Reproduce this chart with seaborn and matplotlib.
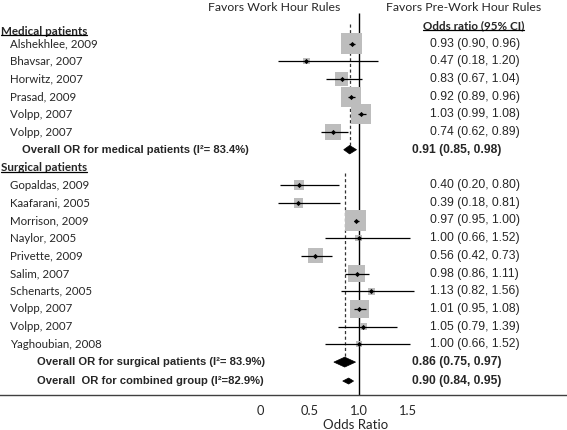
import numpy as np
import pandas as pd
import matplotlib
matplotlib.use("Agg")
import matplotlib.pyplot as plt
import seaborn as sns
from matplotlib.patches import Polygon
from matplotlib.lines import Line2D

# ---------------- data ----------------
med_studies = ["Alshekhlee, 2009", "Bhavsar, 2007", "Horwitz, 2007",
               "Prasad, 2009", "Volpp, 2007", "Volpp, 2007"]
med_or = [0.93, 0.47, 0.83, 0.92, 1.03, 0.74]
med_lo = [0.90, 0.18, 0.67, 0.89, 0.99, 0.62]
med_hi = [0.96, 1.20, 1.04, 0.96, 1.08, 0.89]
med_weight = [44, 4.2, 18, 40, 40, 25]

surg_studies = ["Gopaldas, 2009", "Kaafarani, 2005", "Morrison, 2009",
                "Naylor, 2005", "Privette, 2009", "Salim, 2007",
                "Schenarts, 2005", "Volpp, 2007", "Volpp, 2007",
                "Yaghoubian, 2008"]
surg_or = [0.40, 0.39, 0.97, 1.00, 0.56, 0.98, 1.13, 1.01, 1.05, 1.00]
surg_lo = [0.20, 0.18, 0.95, 0.66, 0.42, 0.86, 0.82, 0.95, 0.79, 0.66]
surg_hi = [0.80, 0.81, 1.00, 1.52, 0.73, 1.11, 1.56, 1.08, 1.39, 1.52]
surg_weight = [10, 9.5, 44, 4.2, 22.5, 27, 5.6, 36, 4.9, 3.6]

summary_labels = ["Overall OR for medical patients (I\u00b2= 83.4%)",
                  "Overall OR for surgical patients (I\u00b2= 83.9%)",
                  "Overall  OR for combined group (I\u00b2=82.9%)"]
summary_or = [0.91, 0.86, 0.90]
summary_lo = [0.85, 0.75, 0.84]
summary_hi = [0.98, 0.97, 0.95]

group_titles = ["Medical patients", "Surgical patients"]
favor_labels = ["Favors Work Hour Rules", "Favors Pre-Work Hour Rules"]
ci_header = "Odds ratio (95% CI)"
x_ticks = [0, 0.5, 1.0, 1.5]
x_ticklabels = ["0", "0.5", "1.0", "1.5"]
x_label = "Odds Ratio"

# ---------------- layout ----------------
W, H = 567, 430
fig = plt.figure(figsize=(W / 100, H / 100), dpi=100)
sns.set_style("white")
ax_bottom_px = 395
ax = fig.add_axes([0, 1 - ax_bottom_px / H, 1, ax_bottom_px / H])

px_per_unit = 98.5
zero_px = 260
ax.set_xlim(-zero_px / px_per_unit, (W - zero_px) / px_per_unit)
row_px = 17.7
first_px = 43.5
ax.set_ylim((ax_bottom_px - first_px) / row_px, -first_px / row_px)

n_med = len(med_studies)
n_surg = len(surg_studies)
y_med = np.arange(n_med)
y_med_sum = n_med
y_surg_head = n_med + 1
y_surg = np.arange(n_surg) + n_med + 2
y_surg_sum = y_surg[-1] + 1
y_comb = y_surg_sum + 1.07

df = pd.DataFrame({
    "study": med_studies + surg_studies,
    "or": med_or + surg_or,
    "lo": med_lo + surg_lo,
    "hi": med_hi + surg_hi,
    "weight": med_weight + surg_weight,
    "y": np.concatenate([y_med, y_surg]),
})

wmax = max(df["weight"])
sq_scale = 5.184  # points^2 per weight unit
sns.scatterplot(data=df, x="or", y="y", size="weight",
                sizes=(0, sq_scale * wmax), size_norm=(0, wmax),
                marker="s", color="#bdbdbd", linewidth=0, legend=False,
                ax=ax, zorder=2)
ax.hlines(df["y"], df["lo"], df["hi"], color="black", lw=0.9, zorder=3)
sns.scatterplot(data=df, x="or", y="y", marker="D", s=7, color="black",
                linewidth=0, legend=False, ax=ax, zorder=4)

# summary diamonds
sum_y = [y_med_sum, y_surg_sum, y_comb]
sum_h = [0.24, 0.28, 0.17]
for e, lo, hi, yy, hh in zip(summary_or, summary_lo, summary_hi, sum_y, sum_h):
    ax.add_patch(Polygon([[lo, yy], [e, yy - hh], [hi, yy], [e, yy + hh]],
                         closed=True, facecolor="black", edgecolor="black",
                         lw=0.5, zorder=4))

# reference lines
ax.vlines(1.0, -1.72, ax.get_ylim()[0], color="black", lw=1.0, zorder=1)
ax.vlines(summary_or[0], -1.1, y_med_sum, color="#333333", lw=0.9,
          linestyles=(0, (2.5, 2)), zorder=1)
ax.vlines(summary_or[1], y_surg_head + 0.3, y_surg_sum, color="#333333",
          lw=0.9, linestyles=(0, (2.5, 2)), zorder=1)

# axis styling
for s in ["top", "right", "left"]:
    ax.spines[s].set_visible(False)
ax.spines["bottom"].set_color("#404040")
ax.spines["bottom"].set_linewidth(1.0)
ax.set_yticks([])
ax.set_ylabel("")
ax.set_xticks(x_ticks)
ax.set_xticklabels(x_ticklabels, fontfamily="Lato", fontsize=9.3)
ax.tick_params(axis="x", direction="out", length=5, width=1,
               color="#404040", pad=2)
ax.set_xlabel(x_label, fontfamily="Lato", fontsize=9.5)
ax.xaxis.set_label_coords(356 / W, -(425 - ax_bottom_px) / ax_bottom_px)
ax.xaxis.label.set_va("center")
ax.patch.set_alpha(0)

tr = ax.get_yaxis_transform()
name_font = dict(fontfamily="Lato", fontsize=8.3, va="center", transform=tr)
num_font = dict(fontfamily="Liberation Sans", fontsize=8.7, va="center",
                transform=tr)

for name, yy in zip(df["study"], df["y"]):
    ax.text(10 / W, yy, name, **name_font)
for e, lo, hi, yy in zip(df["or"], df["lo"], df["hi"], df["y"]):
    ax.text(430 / W, yy, f"{e:.2f} ({lo:.2f}, {hi:.2f})", **num_font)

sum_x = [22, 37, 37]
for lab, xx, yy in zip(summary_labels, sum_x, sum_y):
    ax.text(xx / W, yy, lab, fontfamily="Liberation Sans", fontweight="bold",
            fontsize=8.1, va="center", transform=tr)
for e, lo, hi, yy in zip(summary_or, summary_lo, summary_hi, sum_y):
    ax.text(412 / W, yy, f"{e:.2f} ({lo:.2f}, {hi:.2f})",
            fontfamily="Liberation Sans", fontweight="bold", fontsize=8.7,
            va="center", transform=tr)

underlined = []
for title, yy in zip(group_titles, [-0.7, y_surg_head]):
    underlined.append(ax.text(1 / W, yy, title, fontfamily="Lato",
                              fontweight="bold", fontsize=8.4, va="center",
                              transform=tr))
underlined.append(ax.text(423 / W, -0.98, ci_header, fontfamily="Lato",
                          fontweight="bold", fontsize=8.4, va="center",
                          transform=tr))

ax.text(274 / W, -2.05, favor_labels[0], fontfamily="Lato", fontsize=8.8,
        ha="center", va="center", transform=tr)
ax.text(464 / W, -2.05, favor_labels[1], fontfamily="Lato", fontsize=8.8,
        ha="center", va="center", transform=tr)

fig.canvas.draw()
r = fig.canvas.get_renderer()
inv = fig.transFigure.inverted()
for t in underlined:
    bb = t.get_window_extent(r)
    (x0, y0), (x1, _) = inv.transform([(bb.x0, bb.y0 + 1.2), (bb.x1, bb.y0)])
    fig.add_artist(Line2D([x0, x1], [y0, y0], transform=fig.transFigure,
                          color="black", lw=0.9))

fig.savefig("out.png", dpi=100)
